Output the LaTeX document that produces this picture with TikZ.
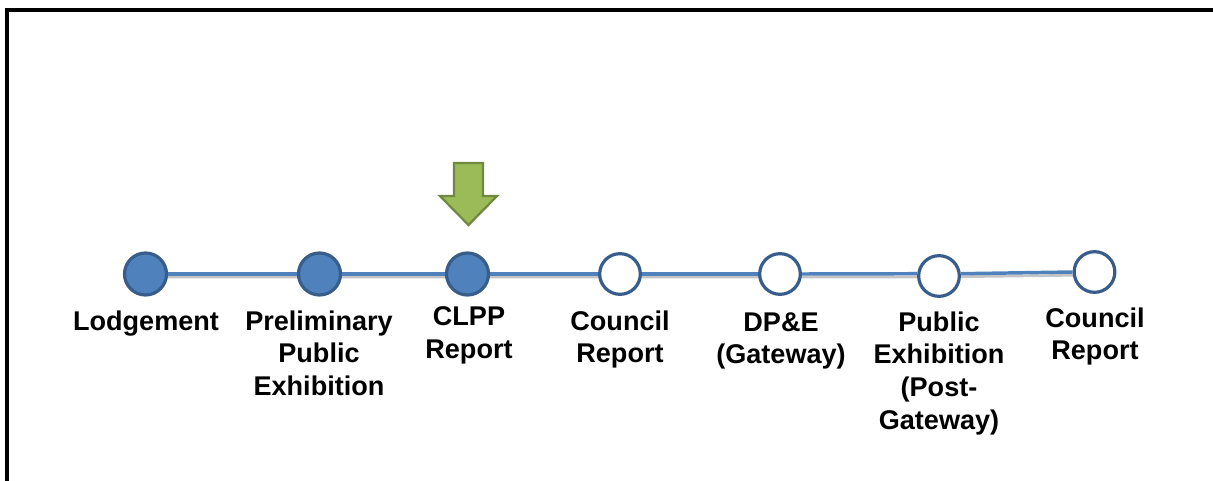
\documentclass[tikz,border=0pt]{standalone}
\usepackage{fontspec}
\setmainfont{Liberation Sans}
\definecolor{fillblue}{HTML}{4F81BD}
\definecolor{edgeblue}{HTML}{385D8A}
\definecolor{shadowgrey}{HTML}{C4C4C4}
\definecolor{arrowgreen}{HTML}{9BBB59}
\definecolor{arrowedge}{HTML}{71893F}
\tikzset{
  x=0.75pt,y=-0.75pt,
  done/.style={circle,draw=edgeblue,line width=2.4pt,fill=fillblue,minimum size=31.5pt,inner sep=0pt},
  todo/.style={circle,draw=edgeblue,line width=2.4pt,fill=white,minimum size=30.5pt,inner sep=0pt},
  link/.style={draw=fillblue,line width=2.6pt},
  linkshadow/.style={draw=shadowgrey,line width=2pt},
  lab/.style={font=\bfseries\fontsize{20.3}{24.5}\selectfont,align=center,text=black,inner sep=0pt},
  frameline/.style={draw=black,line width=3pt}
}
\begin{document}
\begin{tikzpicture}
\useasboundingbox (0,0) rectangle (1213,481);
\coordinate (fa) at (7,481);
\coordinate (fb) at (7,10);
\coordinate (fc) at (1213,10);
\draw[frameline,line cap=butt] (fa) -- (fb) -- (fc);
% node positions
\coordinate (p1) at (145.5,274);
\coordinate (p2) at (319.5,274);
\coordinate (p3) at (467.5,274);
\coordinate (p4) at (620,274);
\coordinate (p5) at (780,274);
\coordinate (p6) at (939,276);
\coordinate (p7) at (1094.5,272);
\coordinate (s1) at (145.5,277);
\coordinate (s2) at (939,277);
\coordinate (s3) at (1094.5,275);
% soft shadow below the connectors
\draw[linkshadow] (s1) -- (s2) -- (s3);
\node[done] (n1) at (p1) {};
\node[done] (n2) at (p2) {};
\node[done] (n3) at (p3) {};
\node[todo] (n4) at (p4) {};
\node[todo] (n5) at (p5) {};
\node[todo] (n6) at (p6) {};
\node[todo] (n7) at (p7) {};
\draw[link] (n1) -- (n2);
\draw[link] (n2) -- (n3);
\draw[link] (n3) -- (n4);
\draw[link] (n4) -- (n5);
\draw[link] (n5.east) -- (n6.174);
\draw[link] (n6.6) -- (n7.west);
% labels
\node[lab] (l1) at (146,324) {Lodgement};
\node[lab] (l2) at (319,353) {Preliminary\\Public\\Exhibition};
\node[lab] (l3) at (469,335.5) {CLPP\\Report};
\node[lab] (l4) at (620,339.5) {Council\\Report};
\node[lab] (l5) at (781,341) {DP\&E\\(Gateway)};
\node[lab] (l6) at (939,373) {Public\\Exhibition\\(Post-\\Gateway)};
\node[lab] (l7) at (1095,336.5) {Council\\Report};
% arrow
\draw[draw=arrowedge,fill=arrowgreen,line width=1.7pt,line join=miter]
  (454,163) -- (483,163) -- (483,196) -- (497,196) -- (468.5,225) -- (440,196) -- (454,196) -- cycle;
\end{tikzpicture}
\end{document}
